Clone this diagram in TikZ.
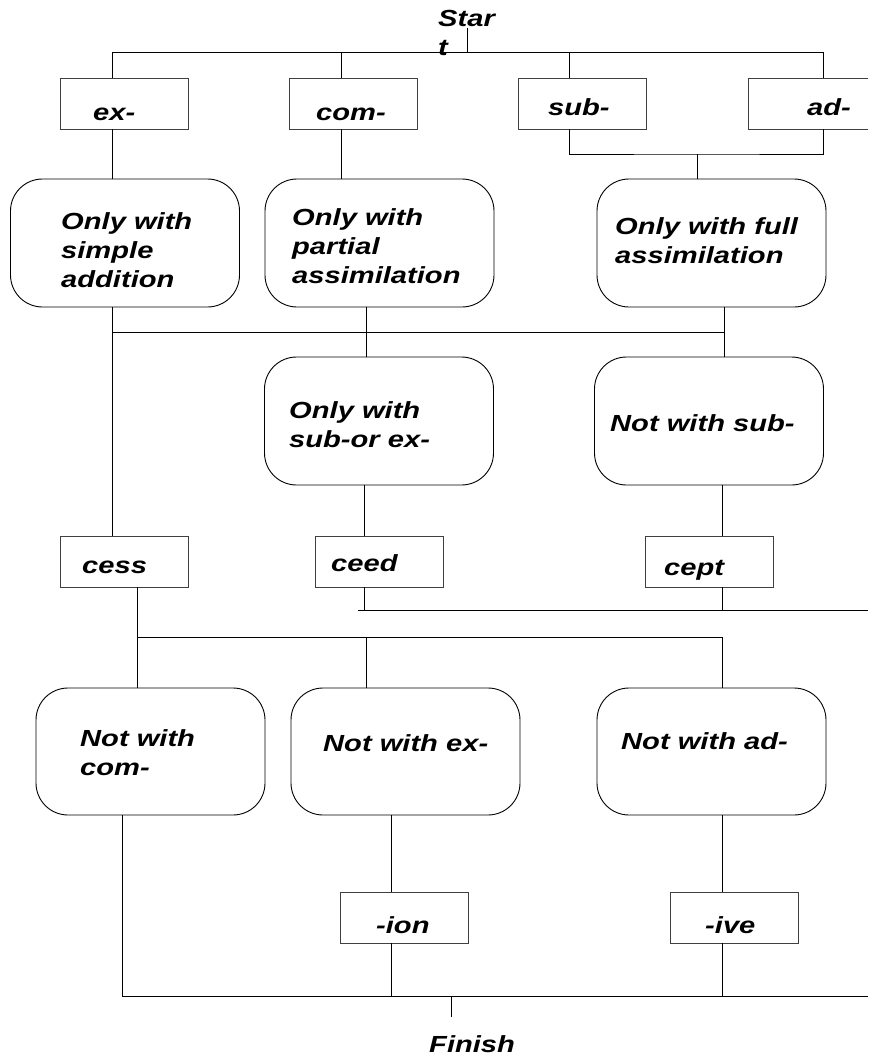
\documentclass[tikz,border=0pt]{standalone}
\usepackage{fontspec}
\newfontfamily\lab[FakeStretch=1.25]{Liberation Sans}
\usetikzlibrary{calc}
\begin{document}
\begin{tikzpicture}[x=1pt,y=-1pt,
  conn/.style={draw=black, line width=0.9pt},
  rectbox/.style={draw=black!75, line width=0.9pt, rectangle, minimum width=128pt, minimum height=51pt, inner sep=0pt},
  roundbox/.style={draw=black, line width=0.9pt, rectangle, rounded corners=32pt, minimum width=229pt, minimum height=128pt, inner sep=0pt},
  txt/.style={inner sep=0pt, align=left, font=\lab\bfseries\itshape\fontsize{23.3}{29}\selectfont},
]
\clip (0,0) rectangle (868,1055);
% ---------- boxes ----------
\node[rectbox] (ex)   at (124.5,103.5) {};
\node[rectbox] (com)  at (353,103.5) {};
\node[rectbox] (sub)  at (582,103.5) {};
\node[rectbox] (ad)   at (812,103.5) {};
\node[roundbox] (b1)  at (125,243) {};
\node[roundbox] (b2)  at (379.5,243) {};
\node[roundbox] (b3)  at (711.5,243) {};
\node[roundbox] (b2b) at (379,421) {};
\node[roundbox] (b3b) at (709,421) {};
\node[rectbox] (cess) at (124.5,561.5) {};
\node[rectbox] (ceed) at (379,561.5) {};
\node[rectbox] (cept) at (709,561.5) {};
\node[roundbox, minimum height=127pt] (c1) at (150.5,751.5) {};
\node[roundbox, minimum height=127pt] (c2) at (405.5,751.5) {};
\node[roundbox, minimum height=127pt] (c3) at (711.5,751.5) {};
\node[rectbox] (ion)  at (404,917.5) {};
\node[rectbox] (ive)  at (734.5,917.5) {};
% ---------- texts ----------
\node[txt, anchor=north west] (start) at (438,10) {Star\\t};
\node[txt, anchor=base west] (tex)   at (93,120) {ex-};
\node[txt, anchor=base west] (tcom)  at (316,120) {com-};
\node[txt, anchor=base west] (tsub)  at (548,115) {sub-};
\node[txt, anchor=base west] (tad)   at (807,115) {ad-};
\node[txt, anchor=west] (tb1)  at (61,250.5) {Only with\\simple\\addition};
\node[txt, anchor=west] (tb2)  at (292,246.5) {Only with\\partial\\assimilation};
\node[txt, anchor=west] (tb3)  at (615,241) {Only with full\\assimilation};
\node[txt, anchor=west] (tb2b) at (289,425) {Only with\\sub-or ex-};
\node[txt, anchor=west] (tb3b) at (610,423) {Not with sub-};
\node[txt, anchor=base west] (tcess) at (82,573) {cess};
\node[txt, anchor=base west] (tceed) at (331,571) {ceed};
\node[txt, anchor=base west] (tcept) at (664,575) {cept};
\node[txt, anchor=west] (tc1) at (80,752.5) {Not with\\com-};
\node[txt, anchor=west] (tc2) at (323,743.5) {Not with ex-};
\node[txt, anchor=west] (tc3) at (621,741.5) {Not with ad-};
\node[txt, anchor=base west] (tion) at (376,933) {-ion};
\node[txt, anchor=base west] (tive) at (705,933) {-ive};
\node[txt, anchor=base west] (finish) at (429,1052) {Finish};
% ---------- junction coordinates ----------
\coordinate (s0) at (467,28);
\coordinate (j0) at (467,52);
\coordinate (xA) at (112,52);
\coordinate (xB) at (341,52);
\coordinate (xC) at (569,52);
\coordinate (xD) at (823,52);
\coordinate (m1) at (697,154);
\coordinate (r1L) at (112,332);
\coordinate (r1M) at (366,332);
\coordinate (r1R) at (724,332);
\coordinate (q0) at (358,610);
\coordinate (q1) at (364,610);
\coordinate (q2) at (722,610);
\coordinate (qR) at (868,610);
\coordinate (p0) at (137,637);
\coordinate (p1) at (366,637);
\coordinate (p2) at (722,637);
\coordinate (f0) at (122,996);
\coordinate (f1) at (391,996);
\coordinate (f2) at (722,996);
\coordinate (fR) at (868,996);
\coordinate (fin) at (451,996);
\coordinate (fe) at (451,1017);
% ---------- connectors ----------
\draw[conn] (s0) -- (j0);
\draw[conn] (xA) -- (xD);
\draw[conn] (xA) -- (xA |- ex.north);
\draw[conn] (xB) -- (xB |- com.north);
\draw[conn] (xC) -- (xC |- sub.north);
\draw[conn] (xD) -- (xD |- ad.north);
\draw[conn] (ex.south -| xA) -- (b1.north -| xA);
\draw[conn] (com.south -| xB) -- (b2.north -| xB);
\draw[conn] (sub.south -| xC) |- (m1) -| (ad.south -| xD);
\draw[conn] (m1) -- (b3.north -| m1);
\draw[conn] (b1.south -| r1L) -- (cess.north -| r1L);
\draw[conn] (r1L) -- (r1R);
\draw[conn] (b2.south -| r1M) -- (b2b.north -| r1M);
\draw[conn] (b3.south -| r1R) -- (b3b.north -| r1R);
\draw[conn] (b2b.south -| q1) -- (ceed.north -| q1);
\draw[conn] (ceed.south -| q1) -- (q1);
\draw[conn] (q0) -- (qR);
\draw[conn] (b3b.south -| q2) -- (cept.north -| q2);
\draw[conn] (cept.south -| q2) -- (q2);
\draw[conn] (cess.south -| p0) -- (c1.north -| p0);
\draw[conn] (p0) -- (p2);
\draw[conn] (p1) -- (c2.north -| p1);
\draw[conn] (p2) -- (c3.north -| p2);
\draw[conn] (c1.south -| f0) -- (f0) -- (fR);
\draw[conn] (c2.south -| f1) -- (ion.north -| f1);
\draw[conn] (ion.south -| f1) -- (f1);
\draw[conn] (c3.south -| f2) -- (ive.north -| f2);
\draw[conn] (ive.south -| f2) -- (f2);
\draw[conn] (fin) -- (fe);
\end{tikzpicture}
\end{document}
